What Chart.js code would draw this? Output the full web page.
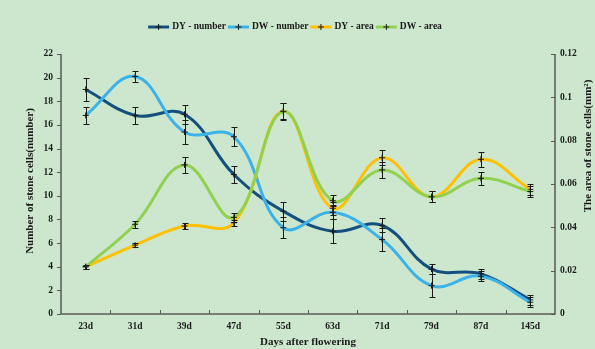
<!DOCTYPE html>
<html lang="en">
<head>
<meta charset="UTF-8">
<title>Stone cells</title>
<script src="https://cdn.jsdelivr.net/npm/chart.js"></script>
<style>
    body {
        margin: 0;
        background-color: #cde7ce;
    }
    .chart-container {
        width: 595px;
        height: 349px;
    }
</style>
</head>
<body>
<div class="chart-container">
    <canvas id="stoneChart" width="595" height="349"></canvas>
</div>
<script>
    const days = ['23d', '31d', '39d', '47d', '55d', '63d', '71d', '79d', '87d', '145d'];

    const dyNumber = [19.0, 16.8, 16.9, 11.8, 8.7, 7.0, 7.5, 3.8, 3.4, 1.2];
    const dyNumberErr = [0.95, 0.75, 0.8, 0.75, 0.8, 1.0, 0.6, 0.45, 0.4, 0.4];
    const dwNumber = [16.8, 20.1, 15.4, 15.0, 7.3, 8.6, 6.3, 2.4, 3.2, 1.0];
    const dwNumberErr = [0.75, 0.5, 1.0, 0.8, 0.9, 0.6, 1.0, 1.0, 0.4, 0.4];

    const dyArea = [0.0218, 0.0318, 0.0406, 0.0421, 0.0937, 0.0488, 0.0721, 0.0541, 0.0714, 0.0575];
    const dyAreaErr = [0.0008, 0.001, 0.0012, 0.0015, 0.0035, 0.003, 0.0035, 0.0025, 0.0035, 0.0025];
    const dwArea = [0.0218, 0.0414, 0.0688, 0.0446, 0.0934, 0.0523, 0.0665, 0.0541, 0.0626, 0.0565];
    const dwAreaErr = [0.0008, 0.0015, 0.0035, 0.002, 0.004, 0.0025, 0.0035, 0.0025, 0.003, 0.0025];

    const numberTicks = [0, 2, 4, 6, 8, 10, 12, 14, 16, 18, 20, 22];
    const areaTicks = [0, 0.02, 0.04, 0.06, 0.08, 0.1, 0.12];

    const serif = '"Liberation Serif", "Times New Roman", serif';
    const axisColor = '#595959';

    // error bars on top of the lines
    const errorBars = {
        id: 'errorBars',
        afterDatasetsDraw(chart) {
            const ctx = chart.ctx;
            ctx.save();
            ctx.strokeStyle = '#1a1a1a';
            ctx.lineWidth = 1;
            chart.data.datasets.forEach((ds, i) => {
                const meta = chart.getDatasetMeta(i);
                const yScale = chart.scales[ds.yAxisID];
                meta.data.forEach((pt, j) => {
                    const v = ds.data[j], e = ds.errors[j];
                    const x = Math.round(pt.x) + 0.5;
                    const yTop = Math.round(yScale.getPixelForValue(v + e)) + 0.5;
                    const yBot = Math.round(yScale.getPixelForValue(v - e)) + 0.5;
                    ctx.beginPath();
                    ctx.moveTo(x, yTop); ctx.lineTo(x, yBot);
                    ctx.moveTo(x - 3, yTop); ctx.lineTo(x + 3, yTop);
                    ctx.moveTo(x - 3, yBot); ctx.lineTo(x + 3, yBot);
                    ctx.stroke();
                });
            });
            ctx.restore();
        }
    };

    // axis lines, inward/outward ticks, axis titles and legend
    const frame = {
        id: 'frame',
        afterDraw(chart) {
            const ctx = chart.ctx;
            const area = chart.chartArea;
            const x = chart.scales.x, yl = chart.scales.yNumber, yr = chart.scales.yArea;
            ctx.save();
            ctx.strokeStyle = axisColor;
            ctx.lineWidth = 1.5;
            ctx.beginPath();
            ctx.moveTo(area.left, area.top); ctx.lineTo(area.left, area.bottom);
            ctx.lineTo(area.right, area.bottom); ctx.lineTo(area.right, area.top);
            ctx.stroke();

            ctx.lineWidth = 1;
            ctx.beginPath();
            numberTicks.forEach(t => {
                const y = Math.round(yl.getPixelForValue(t)) + 0.5;
                ctx.moveTo(area.left - 4, y); ctx.lineTo(area.left, y);
            });
            areaTicks.forEach(t => {
                const y = Math.round(yr.getPixelForValue(t)) + 0.5;
                ctx.moveTo(area.right - 4, y); ctx.lineTo(area.right, y);
            });
            for (let i = 1; i < days.length; i++) {
                const bx = Math.round((x.getPixelForValue(i - 1) + x.getPixelForValue(i)) / 2) + 0.5;
                ctx.moveTo(bx, area.bottom); ctx.lineTo(bx, area.bottom - 4);
            }
            ctx.stroke();

            ctx.fillStyle = '#1a1a1a';
            ctx.font = 'bold 11px ' + serif;
            ctx.textAlign = 'center';
            ctx.textBaseline = 'middle';
            ctx.fillText('Days after flowering', (area.left + area.right) / 2, 342);

            ctx.save();
            ctx.translate(30, 181);
            ctx.rotate(-Math.PI / 2);
            ctx.fillText('Number of stone cells(number)', 0, 0);
            ctx.restore();

            ctx.save();
            ctx.translate(588, 146);
            ctx.rotate(-Math.PI / 2);
            ctx.fillText('The area of stone cells(mm²)', 0, 0);
            ctx.restore();

            // legend
            ctx.font = 'bold 9.5px ' + serif;
            ctx.textAlign = 'left';
            const items = chart.data.datasets.map(ds => ({
                label: ds.label, color: ds.borderColor, w: ctx.measureText(ds.label).width
            }));
            const total = items.reduce((s, it) => s + 21 + 3 + it.w + 2, 0);
            let lx = 296 - total / 2;
            const ly = 27;
            items.forEach(it => {
                ctx.strokeStyle = it.color;
                ctx.lineWidth = 3;
                ctx.beginPath();
                ctx.moveTo(lx, ly); ctx.lineTo(lx + 21, ly);
                ctx.stroke();
                ctx.strokeStyle = '#1a1a1a';
                ctx.lineWidth = 1;
                ctx.beginPath();
                ctx.moveTo(lx + 10.5, ly - 3); ctx.lineTo(lx + 10.5, ly + 3);
                ctx.moveTo(lx + 7.5, ly); ctx.lineTo(lx + 13.5, ly);
                ctx.stroke();
                ctx.fillText(it.label, lx + 24, ly);
                lx += 21 + 3 + it.w + 2;
            });
            ctx.restore();
        }
    };

    function lineSet(label, data, errors, color, axis, order) {
        return {
            label: label,
            data: data,
            errors: errors,
            yAxisID: axis,
            borderColor: color,
            backgroundColor: color,
            borderWidth: 3,
            tension: 0.4,
            pointStyle: 'cross',
            pointRadius: 3,
            pointBorderColor: '#1a1a1a',
            pointBorderWidth: 1,
            order: order
        };
    }

    const ctx = document.getElementById('stoneChart').getContext('2d');
    new Chart(ctx, {
        type: 'line',
        data: {
            labels: days,
            datasets: [
                lineSet('DY - number', dyNumber, dyNumberErr, '#154f7d', 'yNumber', 3),
                lineSet('DW - number', dwNumber, dwNumberErr, '#3bb2e8', 'yNumber', 2),
                lineSet('DY - area', dyArea, dyAreaErr, '#ffc000', 'yArea', 1),
                lineSet('DW - area', dwArea, dwAreaErr, '#92d050', 'yArea', 0)
            ]
        },
        options: {
            responsive: false,
            animation: false,
            layout: { padding: { top: 54, bottom: 0, left: 0, right: 0 } },
            plugins: {
                legend: { display: false },
                tooltip: { enabled: false }
            },
            scales: {
                x: {
                    offset: true,
                    grid: { display: false, drawTicks: false },
                    border: { display: false },
                    ticks: { color: '#1a1a1a', font: { family: serif, size: 9.5, weight: 'bold' }, padding: 7, maxRotation: 0 },
                    afterFit(scale) { scale.height = 35; }
                },
                yNumber: {
                    position: 'left',
                    min: 0,
                    max: 22,
                    grid: { display: false, drawTicks: false },
                    border: { display: false },
                    ticks: { stepSize: 2, color: '#1a1a1a', font: { family: serif, size: 9.5, weight: 'bold' }, padding: 8 },
                    afterFit(scale) { scale.width = 61; }
                },
                yArea: {
                    position: 'right',
                    min: 0,
                    max: 0.12,
                    grid: { display: false, drawTicks: false },
                    border: { display: false },
                    ticks: {
                        stepSize: 0.02,
                        color: '#1a1a1a',
                        font: { family: serif, size: 9.5, weight: 'bold' },
                        padding: 5,
                        callback: v => String(Number(v.toFixed(2)))
                    },
                    afterFit(scale) { scale.width = 40; }
                }
            }
        },
        plugins: [errorBars, frame]
    });
</script>
</body>
</html>
